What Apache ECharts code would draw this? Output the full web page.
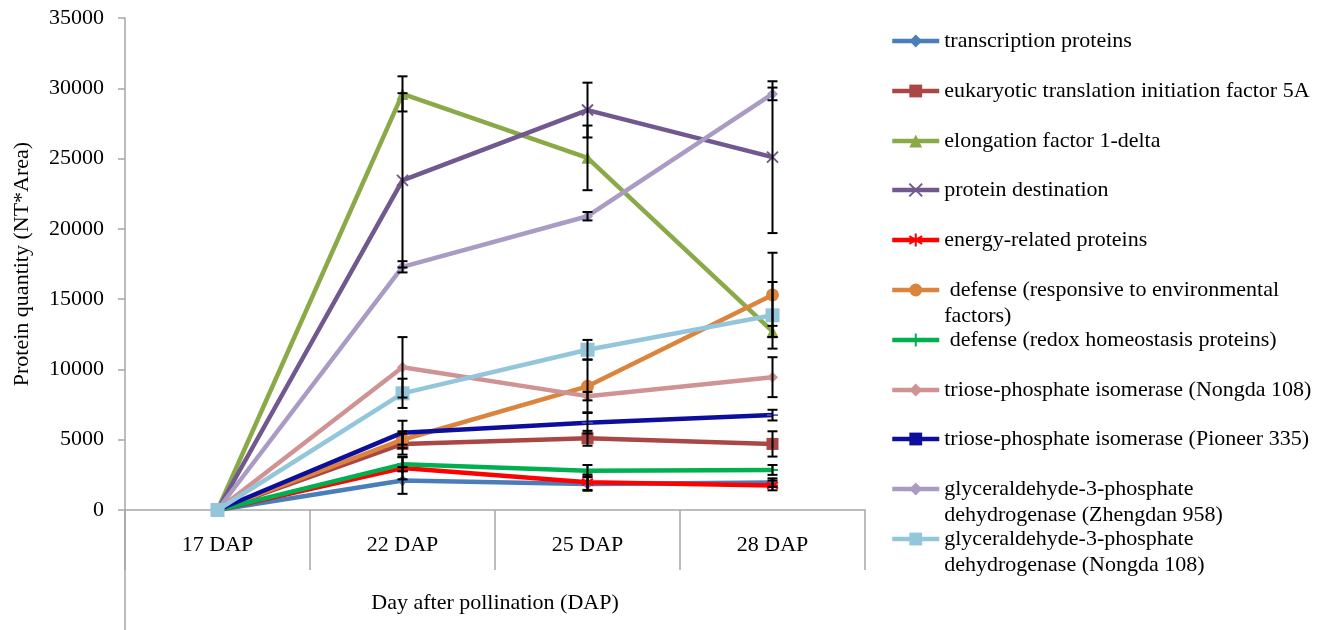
<!DOCTYPE html>
<html>
<head>
<meta charset="utf-8">
<script src="https://cdn.jsdelivr.net/npm/echarts@6/dist/echarts.min.js"></script>
<style>
html,body{margin:0;padding:0;background:#fff;}
#chart{width:1331px;height:630px;}
</style>
</head>
<body>
<div id="chart"></div>
<script>
// ---- data ----
const categories = ['17 DAP', '22 DAP', '25 DAP', '28 DAP'];
const yTicks = [0, 5000, 10000, 15000, 20000, 25000, 30000, 35000];

const seriesNames = [
  'transcription proteins',
  'eukaryotic translation initiation factor 5A',
  'elongation factor 1-delta',
  'protein destination',
  'energy-related proteins',
  ' defense (responsive to environmental factors)',
  ' defense (redox homeostasis proteins)',
  'triose-phosphate isomerase (Nongda 108)',
  'triose-phosphate isomerase (Pioneer 335)',
  'glyceraldehyde-3-phosphate dehydrogenase (Zhengdan 958)',
  'glyceraldehyde-3-phosphate dehydrogenase (Nongda 108)'
];
const legendLabels = [
  'transcription proteins',
  'eukaryotic translation initiation factor 5A',
  'elongation factor 1-delta',
  'protein destination',
  'energy-related proteins',
  ' defense (responsive to environmental\nfactors)',
  ' defense (redox homeostasis proteins)',
  'triose-phosphate isomerase (Nongda 108)',
  'triose-phosphate isomerase (Pioneer 335)',
  'glyceraldehyde-3-phosphate\ndehydrogenase (Zhengdan 958)',
  'glyceraldehyde-3-phosphate\ndehydrogenase (Nongda 108)'
];

const transcription      = [0, 2100, 1850, 1950];
const eif5a              = [0, 4700, 5100, 4700];
const elongation         = [0, 29600, 25050, 12700];
const destination        = [0, 23450, 28450, 25100];
const energy             = [0, 2980, 1980, 1750];
const defenseEnv         = [0, 5000, 8800, 15300];
const defenseRedox       = [0, 3250, 2800, 2850];
const tpiNongda          = [0, 10150, 8100, 9450];
const tpiPioneer         = [0, 5500, 6200, 6750];
const gapdhZhengdan      = [0, 17300, 20900, 29600];
const gapdhNongda        = [0, 8300, 11400, 13850];

const transcriptionErr   = [0, 950, 480, 300];
const eif5aErr           = [0, 760, 530, 900];
const elongationErr      = [0, 1250, 2300, 400];
const destinationErr     = [0, 6200, 1950, 5400];
const energyErr          = [0, 800, 550, 350];
const defenseEnvErr      = [0, 600, 1900, 3000];
const defenseRedoxErr    = [0, 500, 400, 350];
const tpiNongdaErr       = [0, 2150, 300, 1420];
const tpiPioneerErr      = [0, 850, 750, 380];
const gapdhZhengdanErr   = [0, 400, 300, 450];
const gapdhNongdaErr     = [0, 1040, 700, 2370];

const values = [transcription, eif5a, elongation, destination, energy, defenseEnv,
  defenseRedox, tpiNongda, tpiPioneer, gapdhZhengdan, gapdhNongda];
const errors = [transcriptionErr, eif5aErr, elongationErr, destinationErr, energyErr, defenseEnvErr,
  defenseRedoxErr, tpiNongdaErr, tpiPioneerErr, gapdhZhengdanErr, gapdhNongdaErr];

// ---- styles ----
const colors = ['#4A7EBB', '#AA4643', '#8AAA48', '#71588F', '#FF0000', '#DB843D',
  '#00B050', '#D09393', '#0E0E9E', '#A99BC4', '#93C6DA'];
const symbols = [
  'diamond', 'rect', 'triangle',
  'path://M0,0L10,10M10,0L0,10',
  'path://M5,0L5,10M0,2L10,8M0,8L10,2M0,5L10,5',
  'circle',
  'path://M5,0L5,10M0,5L10,5',
  'diamond',
  'path://M0,4L10,4L10,5.5L0,5.5Z',
  'diamond', 'rect'
];
const symbolSizes = [11, 12, 12, 11, 11, 13, 11, 11, 11, 11, 14];
const strokeSymbol = [false, false, false, true, true, false, true, false, false, false, false];

const FONT = "'Liberation Serif', 'Times New Roman', serif";
const GRID = {left: 125, right: 466, top: 18, bottom: 120};

const chart = echarts.init(document.getElementById('chart'), null, {renderer: 'canvas'});

const series = [];
seriesNames.forEach((name, i) => {
  series.push({
    name: name,
    type: 'line',
    data: values[i],
    symbol: symbols[i],
    symbolSize: symbolSizes[i],
    symbolKeepAspect: true,
    showAllSymbol: true,
    z: 2 + i * 0.01,
    lineStyle: {width: 4.5, color: colors[i]},
    itemStyle: strokeSymbol[i]
      ? {color: colors[i], borderColor: colors[i], borderWidth: 2}
      : (i === 8 ? {color: '#5050C8'} : {color: colors[i]}),
    emphasis: {disabled: true},
    animation: false
  });
});
// error bars
seriesNames.forEach((name, i) => {
  series.push({
    name: name + ' err',
    type: 'custom',
    silent: true,
    z: 5,
    animation: false,
    encode: {x: 0, y: 1},
    data: values[i].map((v, k) => [k, v, errors[i][k]]),
    renderItem: function (params, api) {
      const x = api.value(0), v = api.value(1), e = api.value(2);
      if (!e) return null;
      const top = api.coord([x, v + e]);
      const bot = api.coord([x, v - e]);
      const hw = 5;
      const st = {stroke: '#000', lineWidth: 2};
      return {
        type: 'group',
        children: [
          {type: 'line', shape: {x1: top[0], y1: top[1], x2: bot[0], y2: bot[1]}, style: st},
          {type: 'line', shape: {x1: top[0] - hw, y1: top[1], x2: top[0] + hw, y2: top[1]}, style: st},
          {type: 'line', shape: {x1: bot[0] - hw, y1: bot[1], x2: bot[0] + hw, y2: bot[1]}, style: st}
        ]
      };
    }
  });
});

const legends = seriesNames.map((name, i) => {
  const twoLine = legendLabels[i].indexOf('\n') >= 0;
  const center = Math.round(41 + 49.8 * i);
  const item = i === 8
    ? {name: name, itemStyle: {color: '#0E0E9E'}}
    : {name: name};
  return {
    data: [item],
    orient: 'vertical',
    left: 890,
    top: twoLine ? center - 39 : center - 13,
    padding: 0,
    itemWidth: 47,
    itemHeight: 16,
    itemGap: 0,
    selectedMode: false,
    lineStyle: {width: 4.5},
    formatter: () => (twoLine ? ' \n' : '') + legendLabels[i],
    textStyle: {fontFamily: FONT, fontSize: 22, color: '#000', lineHeight: 26}
  };
});

const option = {
  backgroundColor: '#fff',
  animation: false,
  grid: GRID,
  legend: legends,
  xAxis: {
    type: 'category',
    data: categories,
    boundaryGap: true,
    axisLine: {lineStyle: {color: '#A6A6A6', width: 1.5}},
    axisTick: {show: true, interval: 0, length: 60, lineStyle: {color: '#A6A6A6', width: 1.5}},
    axisLabel: {fontFamily: FONT, fontSize: 22, color: '#000', margin: 24},
    name: 'Day after pollination (DAP)',
    nameLocation: 'middle',
    nameGap: 82,
    nameTextStyle: {fontFamily: FONT, fontSize: 22, color: '#000'}
  },
  yAxis: {
    type: 'value',
    min: yTicks[0],
    max: yTicks[yTicks.length - 1],
    interval: yTicks[1] - yTicks[0],
    axisLine: {show: true, lineStyle: {color: '#A6A6A6', width: 1.5}},
    axisTick: {show: true, length: 7, lineStyle: {color: '#A6A6A6', width: 1.5}},
    splitLine: {show: false},
    axisLabel: {fontFamily: FONT, fontSize: 22, color: '#000', margin: 21, formatter: v => String(v)},
    name: 'Protein quantity (NT*Area)',
    nameLocation: 'middle',
    nameGap: 92,
    nameTextStyle: {fontFamily: FONT, fontSize: 22, color: '#000'}
  },
  graphic: [{
    type: 'line',
    shape: {x1: GRID.left, y1: 630 - GRID.bottom, x2: GRID.left, y2: 630},
    style: {stroke: '#A6A6A6', lineWidth: 1.5},
    silent: true
  }],
  series: series
};
chart.setOption(option);
</script>
</body>
</html>
